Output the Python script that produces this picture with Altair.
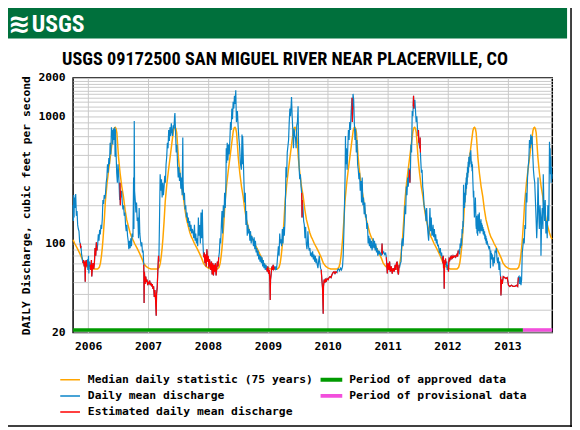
import altair as alt
import pandas as pd
from datetime import date, timedelta

# ---------------- text ----------------
TITLE = "USGS 09172500 SAN MIGUEL RIVER NEAR PLACERVILLE, CO"
Y_TITLE = "DAILY Discharge, cubic feet per second"
LOGO = "USGS"
SERIES = ["Median daily statistic (75 years)", "Daily mean discharge",
          "Estimated daily mean discharge"]
SERIES_COLORS = ["#FFA500", "#0A84C8", "#FF0000"]
PERIODS = ["Period of approved data", "Period of provisional data"]
PERIOD_COLORS = ["#009A00", "#F24FDC"]
PERIOD_START = ["2005-10-01", "2013-04-05"]
PERIOD_END = ["2013-04-05", "2013-10-01"]
YEARS = [2006, 2007, 2008, 2009, 2010, 2011, 2012, 2013]
Y_GRID = [20, 30, 40, 50, 60, 70, 80, 90, 100, 200, 300, 400, 500, 600, 700,
          800, 900, 1000, 1100, 1200, 1300, 1400, 1500, 1600, 1700, 1800, 1900, 2000]
Y_LABELS = [20, 100, 1000, 2000]

# median daily statistic: (day of water year, cfs)
MEDIAN = [(0, 107), (10, 100), (25, 92), (40, 84), (55, 76), (65, 70), (80, 66), (95, 64),
          (110, 63), (130, 63), (150, 63), (160, 65), (167, 70), (173, 80), (178, 92),
          (183, 110), (190, 150), (197, 215), (207, 295), (217, 380), (227, 480), (237, 610),
          (247, 770), (252, 810), (257, 820), (262, 800), (267, 740), (272, 600), (277, 480),
          (282, 410), (287, 355), (297, 280), (307, 235), (317, 185), (327, 154), (337, 137),
          (347, 122), (357, 112), (364, 108)]

# daily mean discharge per water year: (day of water year, cfs)
WY2006 = [(0, 200), (2, 150), (4, 240), (6, 160), (8, 230), (12, 190), (16, 245), (20, 165),
          (24, 180), (28, 140), (32, 130), (36, 125), (40, 103), (44, 100), (46, 92), (48, 96),
          (52, 82), (56, 76), (60, 70), (64, 74), (68, 66), (72, 72), (74, 50), (76, 68),
          (80, 74), (84, 66), (88, 75), (90, 62), (94, 80), (96, 58), (100, 72), (104, 68),
          (108, 62), (112, 74), (114, 55), (118, 65), (122, 70), (126, 63), (130, 70), (134, 92),
          (138, 80), (142, 102), (146, 88), (150, 98), (154, 118), (158, 105), (162, 128),
          (166, 118), (170, 140), (174, 130), (178, 155), (182, 220), (186, 205), (190, 240),
          (194, 225), (198, 250), (202, 300), (206, 330), (210, 420), (214, 360), (218, 470),
          (222, 420), (226, 620), (230, 500), (234, 820), (236, 700), (238, 780), (242, 600),
          (246, 800), (250, 650), (254, 820), (256, 480), (258, 790), (262, 520), (266, 360),
          (270, 300), (274, 420), (278, 350), (282, 260), (284, 220), (286, 300), (288, 200),
          (290, 260), (292, 230), (296, 260), (300, 210), (304, 185), (308, 200), (312, 165),
          (316, 175), (320, 140), (324, 125), (328, 140), (332, 115), (336, 105), (340, 90),
          (344, 105), (348, 92), (352, 110), (356, 95), (360, 120), (364, 115)]
WY2007 = [(0, 112), (4, 330), (6, 130), (8, 920), (10, 260), (14, 220), (18, 175), (22, 210),
          (26, 150), (30, 160), (34, 110), (38, 190), (42, 120), (46, 105), (50, 95), (54, 102),
          (58, 85), (62, 88), (66, 68), (68, 34), (70, 60), (74, 48), (78, 55), (82, 50),
          (86, 52), (90, 47), (94, 50), (98, 48), (102, 51), (106, 47), (110, 49), (114, 46),
          (118, 48), (122, 44), (126, 46), (130, 38), (134, 43), (138, 36), (142, 27), (144, 40),
          (148, 45), (152, 62), (156, 80), (158, 72), (162, 150), (164, 230), (166, 350),
          (170, 260), (174, 320), (178, 230), (182, 300), (186, 240), (190, 280), (194, 340),
          (198, 300), (202, 420), (206, 480), (210, 620), (214, 560), (218, 780), (222, 640),
          (226, 820), (230, 700), (234, 880), (238, 760), (242, 700), (246, 850), (250, 800),
          (254, 1000), (256, 1060), (260, 740), (264, 520), (268, 600), (272, 420), (276, 330),
          (280, 400), (284, 310), (288, 360), (292, 270), (296, 330), (300, 240), (304, 680),
          (306, 300), (310, 220), (314, 250), (318, 185), (322, 200), (326, 160), (330, 175),
          (334, 145), (338, 160), (342, 135), (346, 150), (350, 125), (354, 140), (358, 120),
          (362, 130)]
WY2008 = [(0, 125), (6, 110), (10, 140), (14, 105), (18, 120), (22, 100), (26, 110), (30, 95),
          (34, 160), (38, 115), (42, 140), (46, 100), (50, 175), (54, 110), (58, 185), (62, 100),
          (66, 78), (70, 85), (74, 70), (78, 82), (82, 66), (86, 90), (90, 72), (94, 80),
          (98, 64), (102, 75), (106, 68), (110, 62), (114, 72), (118, 57), (122, 70), (126, 56),
          (130, 68), (134, 60), (138, 70), (142, 56), (146, 64), (150, 72), (154, 66), (158, 78),
          (162, 85), (166, 110), (170, 100), (174, 140), (178, 180), (182, 120), (186, 200),
          (190, 160), (194, 250), (198, 190), (202, 300), (204, 560), (206, 430), (210, 620),
          (214, 450), (218, 600), (222, 500), (226, 650), (230, 900), (234, 780), (238, 1150),
          (242, 950), (246, 1300), (250, 1150), (254, 1450), (258, 1250), (262, 1600),
          (266, 900), (272, 1100), (276, 850), (280, 700), (286, 560), (290, 430), (296, 380),
          (300, 720), (302, 420), (304, 700), (308, 460), (312, 300), (316, 210), (320, 250),
          (324, 140), (328, 180), (332, 115), (336, 140), (340, 120), (344, 130), (348, 105),
          (352, 125), (356, 100), (360, 115), (364, 108)]
WY2009 = [(0, 108), (4, 95), (8, 112), (12, 90), (16, 105), (20, 85), (24, 92), (28, 80),
          (32, 88), (36, 75), (40, 82), (44, 72), (48, 80), (52, 70), (56, 78), (60, 66),
          (64, 74), (68, 64), (72, 70), (76, 62), (80, 68), (84, 64), (88, 60), (92, 66),
          (96, 58), (100, 62), (104, 50), (106, 36), (108, 52), (112, 58), (116, 66), (120, 62),
          (124, 68), (128, 63), (132, 65), (136, 63), (140, 66), (144, 62), (148, 70), (152, 82),
          (156, 95), (160, 80), (164, 120), (168, 100), (172, 108), (176, 95), (180, 130),
          (184, 100), (188, 135), (192, 115), (196, 150), (200, 260), (202, 400), (206, 330),
          (210, 520), (214, 580), (218, 650), (222, 900), (226, 1150), (230, 1000), (234, 1250),
          (236, 1420), (240, 1000), (244, 760), (248, 560), (252, 800), (256, 700), (260, 680),
          (264, 560), (268, 850), (272, 900), (276, 1200), (278, 700), (282, 400), (286, 320),
          (290, 350), (294, 280), (298, 250), (300, 160), (302, 220), (306, 190), (310, 150),
          (314, 140), (318, 110), (322, 135), (326, 100), (330, 90), (334, 105), (336, 125),
          (340, 95), (344, 88), (348, 92), (352, 80), (356, 85), (360, 78), (364, 86)]
WY2010 = [(0, 86), (4, 75), (8, 82), (12, 72), (16, 80), (20, 70), (24, 76), (28, 68),
          (32, 64), (36, 72), (40, 80), (44, 70), (48, 64), (52, 62), (56, 52), (60, 45),
          (64, 28), (66, 46), (70, 52), (74, 49), (78, 53), (82, 50), (88, 53), (94, 52),
          (100, 54), (106, 55), (112, 54), (118, 57), (124, 59), (130, 60), (136, 58), (142, 60),
          (148, 59), (152, 62), (158, 63), (164, 61), (170, 64), (176, 62), (182, 66), (186, 80),
          (190, 120), (194, 200), (198, 360), (200, 700), (202, 420), (206, 560), (210, 380),
          (214, 560), (218, 780), (222, 650), (226, 900), (230, 780), (234, 1050), (238, 1300),
          (240, 1400), (242, 900), (244, 1200), (246, 1500), (250, 1350), (254, 900), (258, 650),
          (262, 800), (266, 520), (270, 650), (274, 420), (278, 380), (282, 320), (286, 360),
          (290, 260), (294, 310), (298, 210), (302, 330), (306, 200), (310, 230), (314, 170),
          (318, 210), (322, 160), (326, 170), (330, 130), (334, 145), (338, 100), (342, 115),
          (346, 95), (350, 110), (354, 92), (358, 105), (362, 88)]
WY2011 = [(0, 95), (4, 110), (8, 92), (12, 105), (16, 88), (20, 100), (24, 85), (28, 92),
          (32, 80), (36, 88), (40, 82), (44, 86), (48, 84), (52, 80), (56, 84), (58, 100),
          (60, 82), (62, 84), (68, 86), (74, 82), (80, 84), (84, 78), (90, 58), (94, 70),
          (100, 62), (104, 72), (108, 60), (114, 66), (120, 58), (126, 64), (132, 60), (138, 68),
          (142, 62), (146, 70), (150, 72), (154, 60), (158, 57), (162, 68), (166, 66), (170, 70),
          (174, 72), (178, 100), (182, 110), (186, 95), (190, 120), (194, 150), (198, 200),
          (202, 170), (206, 280), (210, 240), (214, 330), (218, 280), (222, 390), (224, 330),
          (226, 380), (228, 300), (230, 320), (234, 600), (238, 520), (242, 1100), (246, 1000),
          (248, 1200), (250, 1450), (252, 1150), (254, 1200), (258, 1350), (262, 1100),
          (266, 900), (270, 1000), (274, 800), (278, 700), (280, 780), (282, 620), (284, 600),
          (288, 560), (290, 680), (292, 520), (294, 450), (298, 360), (302, 380), (306, 280),
          (310, 250), (314, 200), (318, 190), (322, 180), (326, 150), (330, 190), (334, 140),
          (338, 120), (342, 105), (346, 135), (350, 190), (354, 125), (358, 160), (362, 115)]
WY2012 = [(0, 118), (4, 140), (8, 112), (12, 130), (16, 105), (20, 118), (24, 100), (28, 108),
          (32, 95), (36, 98), (40, 90), (44, 84), (48, 92), (52, 80), (56, 85), (60, 75),
          (62, 78), (64, 70), (66, 80), (68, 64), (70, 72), (72, 44), (74, 66), (76, 74),
          (78, 68), (80, 76), (82, 70), (84, 72), (86, 66), (88, 72), (90, 62), (92, 68),
          (94, 64), (96, 66), (98, 60), (100, 72), (102, 76), (106, 74), (110, 78), (114, 76),
          (118, 79), (122, 77), (126, 80), (130, 78), (134, 79), (138, 80), (142, 78), (146, 80),
          (150, 82), (154, 79), (157, 88), (160, 84), (163, 90), (166, 82), (169, 100),
          (172, 92), (175, 110), (178, 96), (181, 130), (184, 120), (186, 150), (188, 135),
          (190, 290), (192, 200), (194, 230), (196, 190), (198, 250), (200, 210), (202, 300),
          (204, 240), (206, 330), (208, 270), (210, 360), (212, 290), (214, 400), (216, 330),
          (218, 440), (220, 360), (222, 480), (224, 400), (226, 470), (228, 420), (230, 520),
          (232, 450), (234, 540), (236, 460), (238, 400), (240, 440), (242, 370), (244, 420),
          (246, 330), (248, 280), (250, 230), (252, 260), (254, 200), (256, 160), (258, 205),
          (260, 175), (262, 230), (264, 185), (266, 140), (268, 130), (270, 165), (272, 120),
          (274, 145), (276, 115), (278, 170), (280, 135), (282, 160), (284, 125), (286, 175),
          (288, 140), (290, 120), (292, 150), (294, 130), (296, 155), (298, 125), (300, 145),
          (302, 130), (304, 140), (306, 125), (308, 135), (310, 118), (312, 130), (314, 120),
          (316, 115), (318, 125), (320, 108), (322, 118), (324, 105), (326, 115), (328, 100),
          (330, 110), (332, 98), (334, 105), (336, 100), (340, 96), (344, 92), (348, 95),
          (352, 86), (354, 64), (356, 88), (358, 78), (360, 84), (362, 75), (364, 82)]
WY2013 = [(0, 80), (4, 66), (8, 78), (12, 70), (16, 88), (20, 85), (24, 92), (28, 75),
          (32, 70), (36, 78), (40, 62), (44, 72), (48, 57), (50, 55), (52, 39), (56, 52),
          (60, 48), (66, 55), (74, 54), (82, 53), (90, 54), (98, 47), (106, 46), (116, 47),
          (126, 46), (136, 46), (146, 47), (154, 46), (158, 54), (162, 55), (166, 48), (170, 55),
          (174, 47), (178, 52), (182, 85), (186, 95), (190, 110), (194, 100), (198, 140),
          (202, 130), (206, 250), (210, 210), (214, 330), (218, 400), (222, 450), (226, 650),
          (230, 560), (234, 720), (238, 600), (242, 700), (246, 500), (250, 380), (254, 330),
          (258, 300), (262, 220), (266, 160), (270, 110), (274, 150), (278, 330), (282, 180),
          (286, 130), (290, 200), (294, 160), (296, 80), (300, 150), (304, 190), (308, 130),
          (310, 350), (314, 200), (318, 150), (322, 220), (326, 120), (330, 150), (334, 110),
          (338, 200), (340, 180), (344, 150), (348, 630), (350, 420), (352, 560), (354, 350),
          (356, 480), (358, 300), (360, 400), (362, 320), (364, 350)]

DAILY = {2006: WY2006, 2007: WY2007, 2008: WY2008, 2009: WY2009,
         2010: WY2010, 2011: WY2011, 2012: WY2012, 2013: WY2013}
# estimated periods (day-of-water-year ranges)
ESTIMATED = {2006: [(44, 48), (60, 84), (104, 146), (286, 290)],
             2007: [(66, 158)],
             2008: [(66, 158)],
             2009: [(84, 132), (298, 302)],
             2010: [(52, 148), (240, 244)],
             2011: [(56, 60), (84, 162), (224, 228), (248, 252), (278, 282), (288, 292)],
             2012: [(62, 84), (96, 157)],
             2013: [(50, 158)]}

# ---------------- tables ----------------
def wy_start(wy):
    return date(wy - 1, 10, 1)

med_rows, day_rows, est_rows = [], [], []
for wy in YEARS:
    s = wy_start(wy)
    for d, v in MEDIAN:
        med_rows.append({"date": (s + timedelta(days=d)).isoformat(), "cfs": v, "series": SERIES[0]})
    for d, v in DAILY[wy]:
        day_rows.append({"date": (s + timedelta(days=d)).isoformat(), "cfs": v, "series": SERIES[1]})
    for k, (a, b) in enumerate(ESTIMATED[wy]):
        for d, v in DAILY[wy]:
            if a <= d <= b:
                est_rows.append({"date": (s + timedelta(days=d)).isoformat(), "cfs": v,
                                 "series": SERIES[2], "seg": f"{wy}-{k}"})
med_df = pd.DataFrame(med_rows)
day_df = pd.DataFrame(day_rows)
est_df = pd.DataFrame(est_rows)
per_df = pd.DataFrame({"start": PERIOD_START, "end": PERIOD_END, "period": PERIODS})

# ---------------- styling ----------------
MONO = "DejaVu Sans Mono"
NARROW = ("Liberation Sans Narrow, Arial Narrow, Nimbus Sans Narrow, Noto Sans ExtraCondensed, "
          "Noto Sans Condensed, Roboto Condensed, DejaVu Sans Condensed, Liberation Sans")
GRID = "#C8C8C8"
HEADER_GREEN = "#00703C"
W, H = 486, 258

x_scale = alt.Scale(type="utc", domain=[alt.DateTime(year=2005, month=10, date=1, utc=True),
                                        alt.DateTime(year=2013, month=10, date=1, utc=True)])
x_axis = alt.Axis(values=[alt.DateTime(year=y, month=1, date=1, utc=True) for y in YEARS],
                  format="%Y", formatType="utc", title=None, labelFont=MONO, labelFontSize=11.5,
                  labelFontWeight="bold", labelColor="black", labelPadding=8, ticks=False,
                  tickSize=0, domain=False, grid=True, gridColor=GRID, gridWidth=1,
                  labelFlush=False, labelOverlap=False)
y_scale = alt.Scale(type="log", domain=[20, 2000], nice=False)
y_axis = alt.Axis(values=Y_GRID, format="d",
                  labelExpr="indexof(%s, datum.value) >= 0 ? datum.label : ''" % str(Y_LABELS),
                  title=Y_TITLE, titleFont=MONO, titleFontSize=11.5, titleFontWeight="bold",
                  titleColor="black", titleAngle=270, titleX=-47, titleY=H / 2,
                  titleAlign="center", titleBaseline="middle",
                  labelFont=MONO, labelFontSize=11.5, labelFontWeight="bold", labelColor="black",
                  labelPadding=8, ticks=False, tickSize=0, domain=False, grid=True,
                  gridColor=GRID, gridWidth=1, labelFlush=False, labelOverlap=False)

color_legend = alt.Legend(title=None, orient="none", legendX=-14, legendY=298,
                          direction="vertical", symbolType="stroke", symbolSize=400,
                          symbolStrokeWidth=1.5, labelFont=MONO, labelFontSize=11.5,
                          labelFontWeight="bold", labelColor="black", labelOffset=7,
                          labelLimit=400, rowPadding=0.4, padding=0, symbolOffset=0,
                          clipHeight=16)
color_scale = alt.Scale(domain=SERIES, range=SERIES_COLORS)
stroke_legend = alt.Legend(title=None, orient="none", legendX=249, legendY=298,
                           direction="vertical", symbolType="stroke", symbolSize=484,
                           symbolStrokeWidth=4, labelFont=MONO, labelFontSize=11.5,
                           labelFontWeight="bold", labelColor="black", labelOffset=5,
                           labelLimit=400, rowPadding=0.4, padding=0, symbolOffset=0,
                           clipHeight=16)

X = alt.X("date:T", scale=x_scale, axis=x_axis)
Y = alt.Y("cfs:Q", scale=y_scale, axis=y_axis)
C = alt.Color("series:N", scale=color_scale, legend=color_legend)

median = alt.Chart(med_df).mark_line(strokeWidth=1.5).encode(x=X, y=Y, color=C)
daily = alt.Chart(day_df).mark_line(strokeWidth=1.2).encode(x=X, y=Y, color=C)
est = alt.Chart(est_df).mark_line(strokeWidth=1.2).encode(x=X, y=Y, color=C, detail="seg:N")
periods = alt.Chart(per_df).mark_rule(strokeWidth=3.5).encode(
    x=alt.X("start:T", scale=x_scale, axis=x_axis), x2="end:T", y=alt.value(H - 2.5),
    stroke=alt.Stroke("period:N", scale=alt.Scale(domain=PERIODS, range=PERIOD_COLORS),
                      legend=stroke_legend))

one = pd.DataFrame({"k": [0]})
band = alt.Chart(one).mark_rect(color=HEADER_GREEN).encode(
    x=alt.value(-69), x2=alt.value(501), y=alt.value(-71), y2=alt.value(-40))
wave = alt.Chart(one).mark_text(text="\u224b", font="DejaVu Sans", fontSize=27, fontWeight="bold",
                                color="white", align="left", baseline="alphabetic").encode(
    x=alt.value(-66), y=alt.value(-46))
logo = alt.Chart(one).mark_text(text=LOGO, font=NARROW, fontSize=24, fontWeight="bold",
                                color="white", align="left", baseline="alphabetic").encode(
    x=alt.value(-42), y=alt.value(-47))
title = alt.Chart(one).mark_text(text=TITLE, font=NARROW, fontSize=18.5, fontWeight="bold",
                                 color="black", align="center", baseline="alphabetic").encode(
    x=alt.value(215), y=alt.value(-13))
right_border = alt.Chart(one).mark_rule(color="black", strokeWidth=1.5).encode(
    x=alt.value(505), y=alt.value(-76), y2=alt.value(354))
bottom_border = alt.Chart(one).mark_rule(color="black", strokeWidth=1.5).encode(
    x=alt.value(-66), x2=alt.value(506), y=alt.value(353))

chart = alt.layer(median, daily, est, periods, band, wave, logo, title,
                  right_border, bottom_border).properties(
    width=W, height=H, background="white",
    padding={"left": 66, "top": 68, "right": 20, "bottom": 96},
    autosize=alt.AutoSizeParams(type="none"),
).configure_view(stroke="black", strokeWidth=1.5)

chart.save("out.html", embed_options={"renderer": "svg", "actions": False})
